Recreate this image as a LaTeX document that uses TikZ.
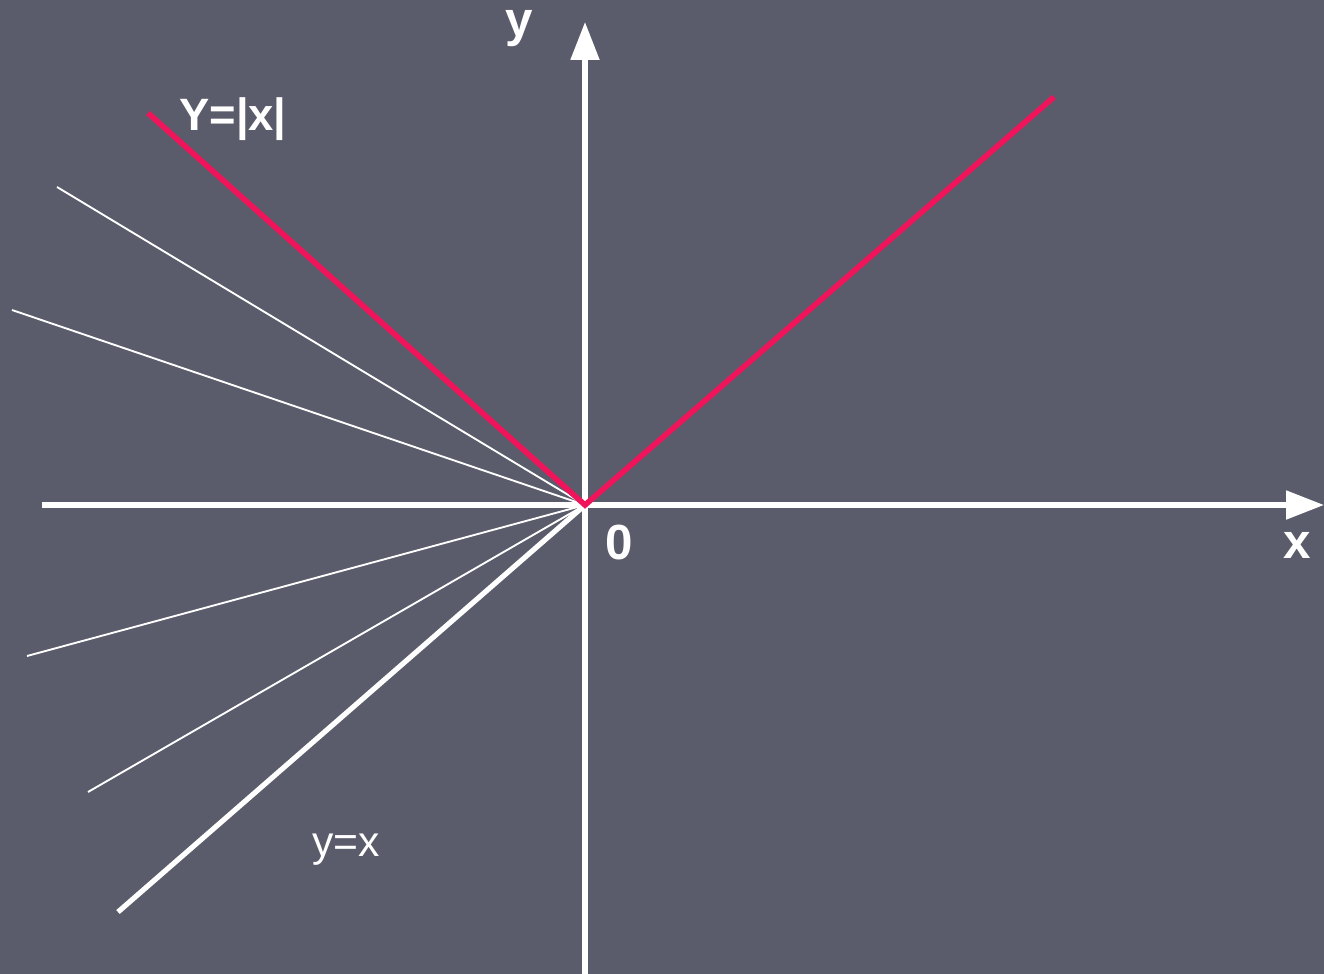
\documentclass[tikz,border=0pt]{standalone}
\usepackage{fontspec}
\setmainfont{Liberation Sans}
\usetikzlibrary{arrows.meta}
\definecolor{bg}{HTML}{5B5C6B}
\definecolor{absred}{HTML}{F0145A}
\begin{document}
\begin{tikzpicture}[x=0.75pt,y=-0.75pt,
  axis/.style={white,line width=3.9pt,-{Triangle[length=28.5pt,width=21pt]}},
  thinray/.style={white,line width=1.4pt},
  thickray/.style={white,line width=3.9pt},
  redray/.style={absred,line width=4.2pt},
  lbl/.style={white,font=\bfseries\fontsize{37}{37}\selectfont,inner sep=0pt,anchor=base}]
\fill[bg] (0,0) rectangle (1324,974);
\useasboundingbox (0,0) rectangle (1324,974);
\coordinate (O) at (585,505);
\coordinate (xs) at (42,505);
\coordinate (xe) at (1324,505);
\coordinate (ys) at (585,974);
\coordinate (ye) at (585,22);
\coordinate (r1) at (148,113);
\coordinate (r2) at (1054,97);
\coordinate (w1) at (57,187);
\coordinate (w2) at (12,310);
\coordinate (w3) at (27,656);
\coordinate (w4) at (88,792);
\coordinate (w5) at (118,912);
\draw[thinray] (w1) -- (O);
\draw[thinray] (w2) -- (O);
\draw[thinray] (w3) -- (O);
\draw[thinray] (w4) -- (O);
\draw[thickray] (w5) -- (O);
\draw[axis] (xs) -- (xe);
\draw[axis] (ys) -- (ye);
\draw[redray,line join=miter] (r1) -- (O) -- (r2);
\node[lbl] (ylab) at (519,37) {y};
\node[lbl] (xlab) at (1297,558) {x};
\node[lbl] (zero) at (619,559) {0};
\node[lbl,font=\bfseries\fontsize{34}{34}\selectfont] (abs) at (233,130) {Y=|x|};
\node[lbl,font=\fontsize{32}{32}\selectfont] (yx) at (346,856) {y=x};
\end{tikzpicture}
\end{document}
